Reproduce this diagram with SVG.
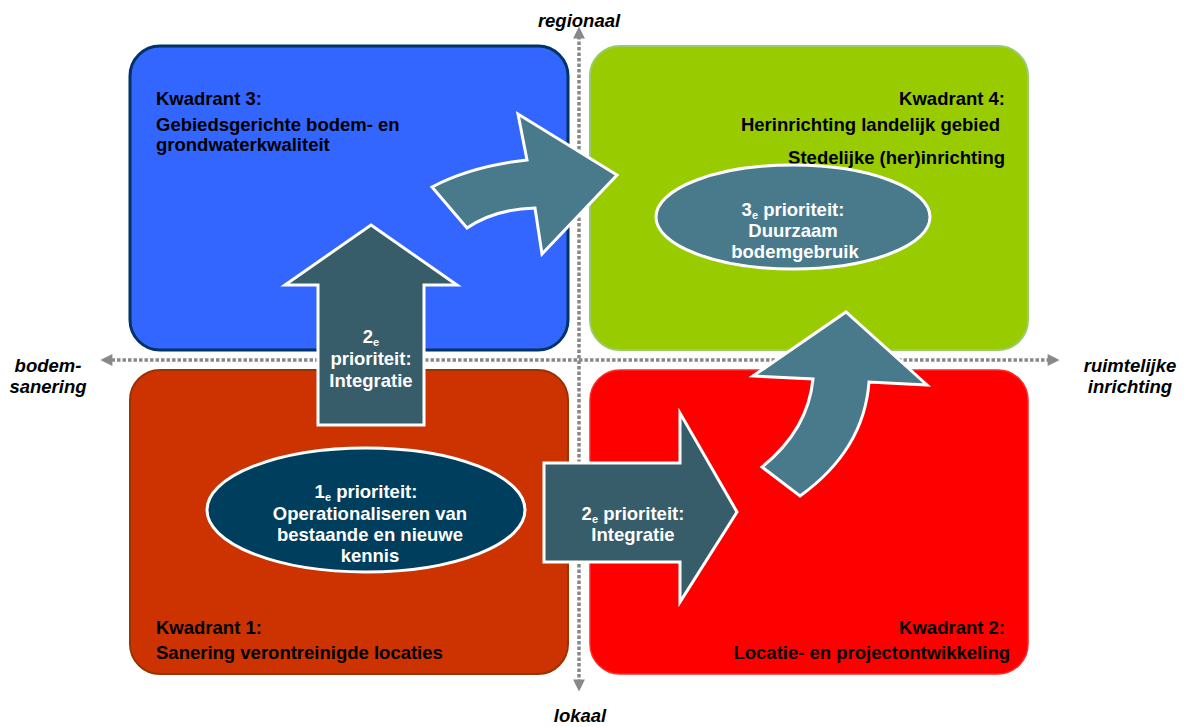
<svg xmlns="http://www.w3.org/2000/svg" width="1194" height="727" viewBox="0 0 1194 727">
<style>
.q{font-family:"Liberation Sans",Arial,sans-serif;font-weight:bold;font-size:18.5px;fill:#000}
.ax{font-family:"Liberation Sans",Arial,sans-serif;font-weight:bold;font-style:italic;font-size:18.5px;fill:#000;text-anchor:middle}
.w{font-family:"Liberation Sans",Arial,sans-serif;font-weight:bold;font-size:18.5px;fill:#fff;text-anchor:middle}
.sub{font-size:11px}
.axis{stroke:#888;stroke-width:3.5;stroke-dasharray:3.5 2;fill:none}
.dark{fill:#375C6A;stroke:#fff;stroke-width:3}
.light{fill:#497A8C;stroke:#fff;stroke-width:3}
</style>
<defs>
<marker id="ah" viewBox="0 0 10 10" refX="2" refY="5" markerWidth="4" markerHeight="3.4" orient="auto-start-reverse" markerUnits="strokeWidth">
<path d="M0,0 L10,5 L0,10 z" fill="#888"/>
</marker>
</defs>
<rect width="1194" height="727" fill="#fff"/>
<g id="kwadrant3">
<rect x="130" y="46" width="438" height="304" rx="30" fill="#3366FF" stroke="#003366" stroke-width="3"/>
<text class="q" x="156" y="105">Kwadrant 3:</text>
<text class="q" x="156" y="131">Gebiedsgerichte bodem- en</text>
<text class="q" x="156" y="151">grondwaterkwaliteit</text>
</g>
<g id="kwadrant4">
<rect x="590" y="46" width="438" height="304" rx="30" fill="#99CC00" stroke="#99CC66" stroke-width="2"/>
<text class="q" x="1005" y="105" text-anchor="end">Kwadrant 4:</text>
<text class="q" x="1000" y="131" text-anchor="end">Herinrichting landelijk gebied</text>
<text class="q" x="1005" y="164" text-anchor="end">Stedelijke (her)inrichting</text>
</g>
<g id="kwadrant1">
<rect x="130" y="370" width="438" height="304" rx="30" fill="#CC3300" stroke="#993300" stroke-width="2"/>
<text class="q" x="156" y="634">Kwadrant 1:</text>
<text class="q" x="156" y="659">Sanering verontreinigde locaties</text>
</g>
<g id="kwadrant2">
<rect x="590" y="370" width="438" height="304" rx="30" fill="#FF0000" stroke="#FF2A2A" stroke-width="1.5"/>
<text class="q" x="1005" y="634" text-anchor="end">Kwadrant 2:</text>
<text class="q" x="1010" y="659" text-anchor="end">Locatie- en projectontwikkeling</text>
</g>
<g id="connectors">
<line class="axis" x1="1050" y1="360" x2="110" y2="360" marker-start="url(#ah)" marker-end="url(#ah)"/>
<line class="axis" x1="579" y1="36" x2="579" y2="682" marker-start="url(#ah)" marker-end="url(#ah)"/>
</g>
<g id="labels">
<text class="ax" x="579" y="27">regionaal</text>
<text class="ax" x="580" y="722">lokaal</text>
<text class="ax" x="48" y="372">bodem-</text>
<text class="ax" x="48" y="393">sanering</text>
<text class="ax" x="1130" y="372">ruimtelijke</text>
<text class="ax" x="1130" y="393">inrichting</text>
</g>
<g id="pijl-omhoog">
<path class="dark" d="M371,225 L457,285 L424,285 L424,425 L318,425 L318,285 L285,285 Z"/>
<text class="w" x="371" y="343">2<tspan class="sub" dy="3">e</tspan></text>
<text class="w" x="371" y="365">prioriteit:</text>
<text class="w" x="371" y="387">Integratie</text>
</g>
<g id="pijl-rechts">
<path class="dark" d="M544,463 L680,463 L680,413 L737,512 L680,602 L680,562 L544,562 Z"/>
<text class="w" x="633" y="520">2<tspan class="sub" dy="3">e</tspan><tspan dy="-3"> prioriteit:</tspan></text>
<text class="w" x="633" y="541">Integratie</text>
</g>
<g id="pijl-gebogen-3-4">
<path class="light" d="M432,187 Q472,166 527,160 L518,114 L617,175 L542,254 L535,208 Q495,209 467,228 Z"/>
</g>
<g id="pijl-gebogen-2-4">
<path class="light" d="M762,467 Q808,430 813,379 L753,376 L846,312 L927,385 L869,382 Q864,450 800,496 Z"/>
</g>
<g id="prioriteit1">
<ellipse cx="366" cy="510" rx="159" ry="62" fill="#003E5E" stroke="#fff" stroke-width="3"/>
<text class="w" x="366" y="498">1<tspan class="sub" dy="3">e</tspan><tspan dy="-3"> prioriteit:</tspan></text>
<text class="w" x="370" y="520">Operationaliseren van</text>
<text class="w" x="370" y="541">bestaande en nieuwe</text>
<text class="w" x="370" y="562">kennis</text>
</g>
<g id="prioriteit3">
<ellipse cx="793" cy="217" rx="137" ry="52" fill="#497A8C" stroke="#fff" stroke-width="3"/>
<text class="w" x="793" y="216">3<tspan class="sub" dy="3">e</tspan><tspan dy="-3"> prioriteit:</tspan></text>
<text class="w" x="793" y="237">Duurzaam</text>
<text class="w" x="795" y="258">bodemgebruik</text>
</g>
</svg>
